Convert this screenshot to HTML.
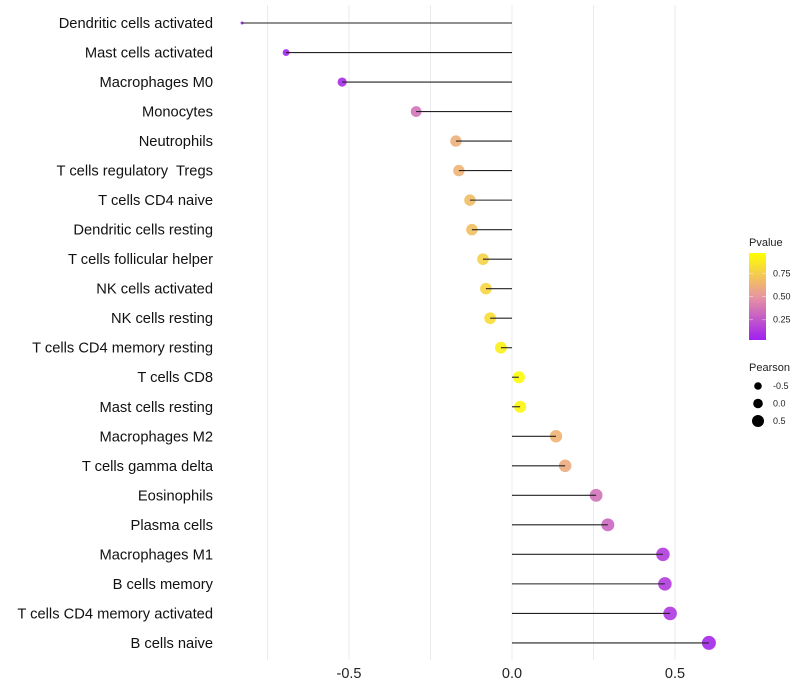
<!DOCTYPE html>
<html><head><meta charset="utf-8"><style>body{margin:0;background:#fff}svg{display:block;font-family:"Liberation Sans",sans-serif}text{white-space:pre}</style></head>
<body>
<svg id="c" width="800" height="700"></svg>
<script>
const categories=["Dendritic cells activated","Mast cells activated","Macrophages M0","Monocytes","Neutrophils","T cells regulatory  Tregs","T cells CD4 naive","Dendritic cells resting","T cells follicular helper","NK cells activated","NK cells resting","T cells CD4 memory resting","T cells CD8","Mast cells resting","Macrophages M2","T cells gamma delta","Eosinophils","Plasma cells","Macrophages M1","B cells memory","T cells CD4 memory activated","B cells naive"];
const pearson=[-0.828,-0.693,-0.521,-0.294,-0.172,-0.163,-0.129,-0.123,-0.089,-0.080,-0.067,-0.034,0.021,0.025,0.135,0.163,0.258,0.294,0.463,0.469,0.485,0.604];
const pvalue=[0.01,0.02,0.05,0.35,0.62,0.64,0.68,0.7,0.78,0.8,0.84,0.93,0.98,0.96,0.64,0.6,0.35,0.3,0.12,0.12,0.1,0.03];
const xTicks=[-0.5,0,0.5];
const xTickLabels=["-0.5","0.0","0.5"];
const gridVals=[-0.75,-0.5,-0.25,0,0.25,0.5];
const pTicks=[0.25,0.5,0.75];
const sizeTicks=[-0.5,0,0.5];
const ns="http://www.w3.org/2000/svg",svg=document.getElementById("c");
function el(t,a,p){const e=document.createElementNS(ns,t);for(const k in a)e.setAttribute(k,a[k]);(p||svg).appendChild(e);return e;}
const X=v=>512+v*326, Y=i=>23+i*29.52;
const rk=[[-0.83,1.5],[-0.69,3.5],[-0.52,4.6],[-0.29,5.4],[0,6],[0.6,7]];
function R(v){if(v<=rk[0][0])return rk[0][1];for(let i=1;i<rk.length;i++){if(v<=rk[i][0]){const a=rk[i-1],b=rk[i];return a[1]+(b[1]-a[1])*(v-a[0])/(b[0]-a[0]);}}return rk[rk.length-1][1];}
function col(p){const s=[[0,[160,32,240]],[0.5,[232,150,160]],[1,[255,255,0]]];let a=s[0],b=s[1];if(p>0.5){a=s[1];b=s[2];}const t=(p-a[0])/(b[0]-a[0]);return "rgb("+a[1].map((c,i)=>Math.round(c+(b[1][i]-c)*t)).join(",")+")";}
gridVals.forEach(v=>{const g=el("line",{x1:X(v),x2:X(v),y1:5,y2:660,stroke:"#ebebeb","stroke-width":1});});
xTicks.forEach((v,i)=>{const t=el("text",{x:X(v),y:678,"text-anchor":"middle","font-size":14.5,fill:"#222"});t.textContent=xTickLabels[i];});
categories.forEach((c,i)=>{
const t=el("text",{x:213,y:Y(i)+5,"text-anchor":"end","font-size":14.7,fill:"#111"});t.textContent=c;
const d=el("circle",{cx:X(pearson[i]),cy:Y(i),r:R(pearson[i]),fill:col(pvalue[i]),"fill-opacity":0.9});
const l=el("line",{x1:X(0),x2:X(pearson[i]),y1:Y(i),y2:Y(i),stroke:"#222","stroke-width":1.1});
});
const lg=el("g",{});
const defs=el("defs",{},lg);const gr=el("linearGradient",{id:"pg",x1:0,y1:1,x2:0,y2:0},defs);
[0,0.5,1].forEach(o=>el("stop",{offset:o,"stop-color":col(o)},gr));
const pt=el("text",{x:749,y:246,"font-size":11,fill:"#222"},lg);pt.textContent="Pvalue";
el("rect",{x:749,y:253,width:17,height:87,fill:"url(#pg)"},lg);
const PY=p=>340-(p-0.03)/(0.97-0.03)*87;
pTicks.forEach(p=>{el("line",{x1:749,x2:753,y1:PY(p),y2:PY(p),stroke:"#fff","stroke-opacity":0.4},lg);el("line",{x1:762,x2:766,y1:PY(p),y2:PY(p),stroke:"#fff","stroke-opacity":0.4},lg);const t=el("text",{x:773,y:PY(p)+3,"font-size":9,fill:"#222"},lg);t.textContent=p.toFixed(2);});
const st=el("text",{x:749,y:371,"font-size":11,fill:"#222"},lg);st.textContent="Pearson";
sizeTicks.forEach((v,i)=>{const y=386+i*17.5;el("circle",{cx:758,cy:y,r:[3.8,4.8,6][i],fill:"#000"},lg);const t=el("text",{x:773,y:y+3,"font-size":9,fill:"#222"},lg);t.textContent=v.toFixed(1);});
</script>
</body></html>
